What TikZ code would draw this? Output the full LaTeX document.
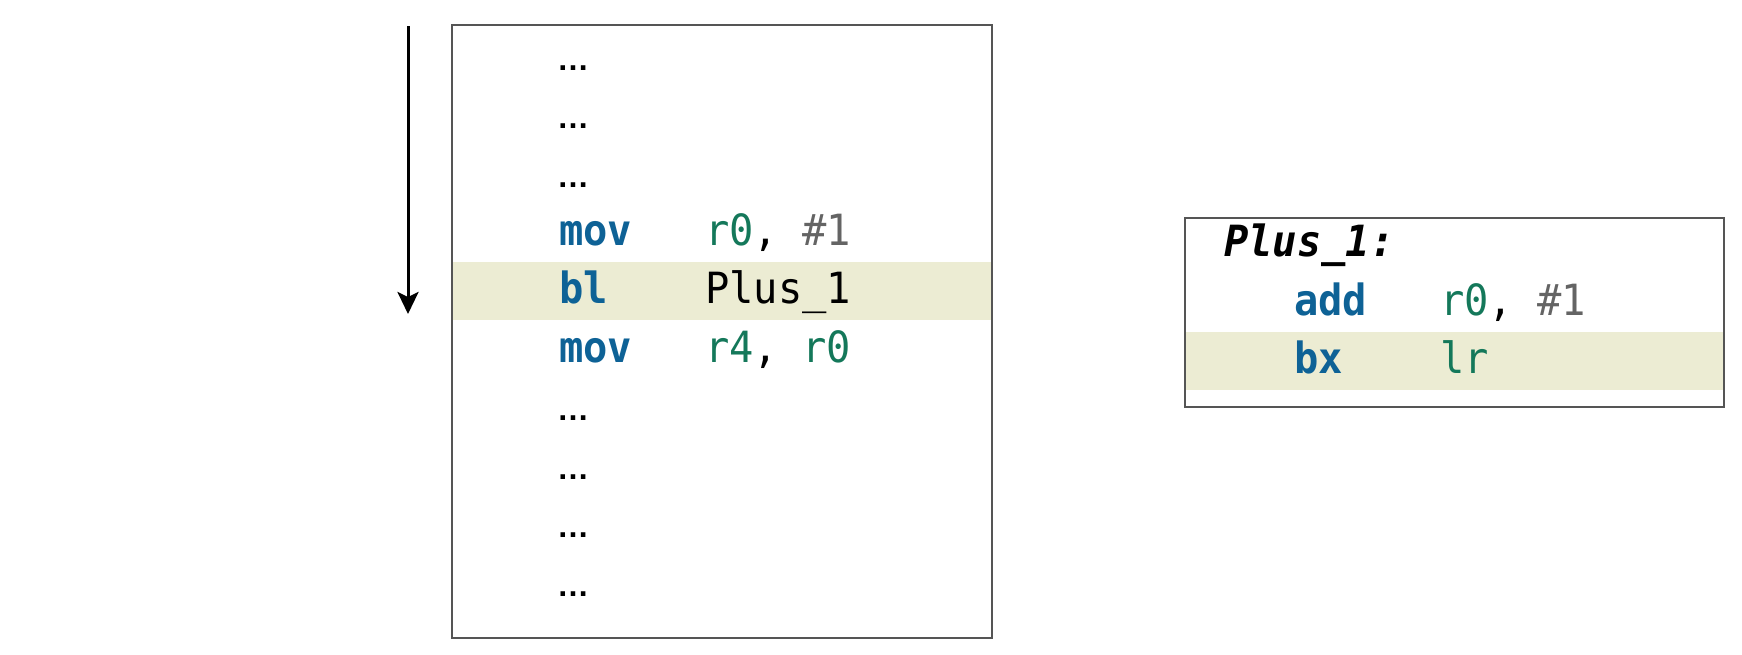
\documentclass[tikz,border=0pt]{standalone}
\usepackage{fontspec}
\setmonofont[FakeStretch=0.94]{DejaVu Sans Mono}
\newfontfamily\dotfont{Liberation Sans}
\usetikzlibrary{arrows.meta}
\definecolor{kw}{RGB}{14,98,150}
\definecolor{reg}{RGB}{20,120,90}
\definecolor{imm}{RGB}{100,100,100}
\definecolor{bandc}{RGB}{236,236,211}
\definecolor{framec}{RGB}{85,85,85}
\begin{document}
\begin{tikzpicture}[x=1pt,y=-1pt,
  code/.style={anchor=base west, inner sep=0pt, font=\ttfamily\fontsize{43}{43}\selectfont},
  dots/.style={code, font=\dotfont\bfseries\fontsize{32}{32}\selectfont},
  kwd/.style={code, font=\ttfamily\bfseries\fontsize{43}{43}\selectfont, text=kw},
  lbl/.style={code, font=\ttfamily\bfseries\itshape\fontsize{43}{43}\selectfont},
  bandbox/.style={fill=bandc, inner sep=0pt, draw=none},
  framebox/.style={draw=framec, line width=1.8pt, inner sep=0pt, fill=none},
  flow/.style={line width=3pt, -{Stealth[length=22pt,width=21pt,inset=5pt]}}]
\path[use as bounding box, fill=white] (0,0) rectangle (1742,654);
% highlight bands
\node[bandbox, minimum width=540pt, minimum height=58pt] (band1) at (722,291) {};
\node[bandbox, minimum width=539pt, minimum height=58pt] (band2) at (1454.5,361) {};
% frames
\node[framebox, minimum width=540pt, minimum height=613pt] (box1) at (722,331.5) {};
\node[framebox, minimum width=539pt, minimum height=189pt] (box2) at (1454.5,312.5) {};
% flow arrow
\coordinate (atop) at (408,26);
\coordinate (atip) at (408,314);
\draw[flow] (atop) -- (atip);
% left listing
\node[dots] (d1) at (557,70) {…};
\node[dots] (d2) at (557,128.5) {…};
\node[dots] (d3) at (557,187) {…};
\node[kwd] (m1) at (559,245) {mov};
\node[code] (o1) at (705,245) {\textcolor{reg}{r0}, \textcolor{imm}{\#1}};
\node[kwd] (m2) at (559,303.5) {bl};
\node[code] (o2) at (705,303.5) {Plus\_1};
\node[kwd] (m3) at (559,362) {mov};
\node[code] (o3) at (705,362) {\textcolor{reg}{r4}, \textcolor{reg}{r0}};
\node[dots] (d4) at (557,420.5) {…};
\node[dots] (d5) at (557,479) {…};
\node[dots] (d6) at (557,537.5) {…};
\node[dots] (d7) at (557,596) {…};
% right listing
\node[lbl] (f0) at (1224,256.5) {Plus\_1:};
\node[kwd] (f1) at (1294,315) {add};
\node[code] (g1) at (1440,315) {\textcolor{reg}{r0}, \textcolor{imm}{\#1}};
\node[kwd] (f2) at (1294,373.5) {bx};
\node[code] (g2) at (1440,373.5) {\textcolor{reg}{lr}};
\end{tikzpicture}
\end{document}
